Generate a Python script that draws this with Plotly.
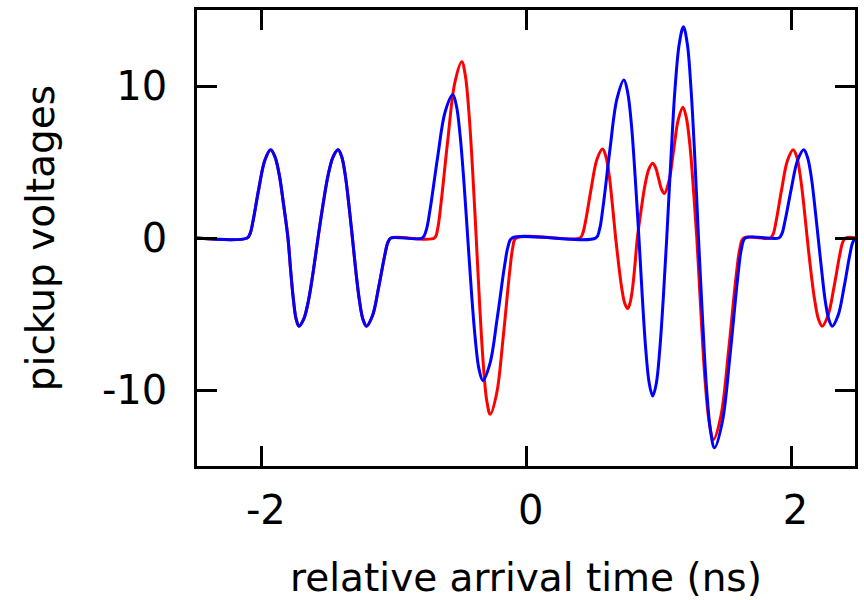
import plotly.graph_objects as go

# ---- data: time (ns) and pickup voltage ----
# two bunch pulses common to both signals
common_t = [-2.5, -2.111, -2.089, -2.067, -2.023, -1.978, -1.934,
            -1.901, -1.868, -1.836, -1.803, -1.782, -1.761, -1.741, -1.720,
            -1.684, -1.648, -1.612, -1.576, -1.538, -1.500, -1.462, -1.424,
            -1.397, -1.370, -1.343, -1.316, -1.290, -1.263, -1.237, -1.210,
            -1.164, -1.118, -1.071, -1.048, -1.025]
common_v = [0, 0, 0.29, 1.1, 3.25, 5.1, 5.8,
            5.34, 4.12, 2.2, 0, -2.2, -4.12, -5.34, -5.8,
            -5.34, -4.12, -2.2, 0, 2.2, 4.12, 5.34, 5.8,
            5.34, 4.12, 2.2, 0, -2.2, -4.12, -5.34, -5.8,
            -5.1, -3.25, -1.1, -0.29, 0]

# blue signal
blue_t3 = [-0.788, -0.760, -0.731, -0.673, -0.616, -0.558,
           -0.530, -0.502, -0.473, -0.445, -0.417, -0.388, -0.360, -0.331,
           -0.277, -0.222, -0.166, -0.138, -0.110]
blue_v3 = [0, 0.47, 1.79, 5.28, 8.29, 9.42,
           8.67, 6.69, 3.58, 0, -3.56, -6.66, -8.63, -9.38,
           -8.25, -5.25, -1.78, -0.47, 0]
blue_t4 = [0.522, 0.549, 0.576, 0.629, 0.682, 0.735,
           0.763, 0.792, 0.820, 0.848, 0.874, 0.900, 0.926, 0.952,
           0.979, 1.005, 1.032, 1.058, 1.090, 1.121, 1.153, 1.184,
           1.213, 1.241, 1.270, 1.298, 1.328, 1.358, 1.389, 1.419,
           1.477, 1.536, 1.594, 1.623, 1.652]
blue_v4 = [0, 0.52, 1.98, 5.82, 9.15, 10.4,
           9.57, 7.38, 3.95, 0, -3.95, -7.38, -9.57, -10.4,
           -9.57, -7.38, -3.95, 0, 5.28, 9.87, 12.79, 13.9,
           12.79, 9.87, 5.28, 0, -5.24, -9.8, -12.7, -13.8,
           -12.14, -7.73, -2.62, -0.69, 0]
blue_t5 = [1.904, 1.928, 1.951, 1.999, 2.046, 2.093,
           2.120, 2.148, 2.175, 2.202, 2.229, 2.255, 2.282, 2.308,
           2.352, 2.397, 2.441, 2.463, 2.485, 2.5]
blue_v5 = [0, 0.29, 1.1, 3.25, 5.1, 5.8,
           5.34, 4.12, 2.2, 0, -2.2, -4.12, -5.34, -5.8,
           -5.1, -3.25, -1.1, -0.29, 0, 0]

# red signal
red_t3 = [-0.697, -0.673, -0.648, -0.595, -0.543, -0.490,
          -0.463, -0.436, -0.408, -0.381, -0.355, -0.328, -0.302, -0.275,
          -0.226, -0.177, -0.128, -0.104, -0.080]
red_v3 = [0, 0.58, 2.2, 6.5, 10.2, 11.6,
          10.67, 8.24, 4.41, 0, -4.41, -8.24, -10.67, -11.6,
          -10.2, -6.5, -2.2, -0.58, 0]
red_t4 = [0.402, 0.423, 0.445, 0.488, 0.530, 0.573,
          0.598, 0.623, 0.647, 0.672, 0.695, 0.718, 0.740, 0.763,
          0.781, 0.800, 0.818, 0.836, 0.865, 0.894, 0.923, 0.952,
          0.974, 0.996, 1.018, 1.040, 1.075, 1.110, 1.145, 1.180,
          1.206, 1.233, 1.259, 1.285, 1.317, 1.348, 1.380, 1.411,
          1.468, 1.525, 1.582, 1.611, 1.639]
red_v4 = [0, 0.29, 1.11, 3.28, 5.15, 5.85,
          5.38, 4.15, 2.24, 0, -1.76, -3.29, -4.27, -4.64,
          -4.27, -3.29, -1.76, 0, 1.87, 3.49, 4.53, 4.92,
          4.63, 3.93, 3.22, 2.93, 3.76, 5.77, 7.78, 8.61,
          7.92, 6.11, 3.27, 0, -5.04, -9.41, -12.19, -13.25,
          -11.66, -7.42, -2.52, -0.66, 0]
red_t5 = [1.841, 1.863, 1.884, 1.927, 1.970, 2.013,
          2.040, 2.066, 2.093, 2.119, 2.147, 2.176, 2.204, 2.232,
          2.276, 2.321, 2.365, 2.387, 2.409, 2.5]
red_v5 = [0, 0.29, 1.1, 3.25, 5.1, 5.8,
          5.34, 4.12, 2.2, 0, -2.2, -4.12, -5.34, -5.8,
          -5.1, -3.25, -1.1, -0.29, 0, 0]

x_ticks = [-2, 0, 2]
y_ticks = [-10, 0, 10]

blue_t = common_t + blue_t3 + blue_t4 + blue_t5
blue_v = common_v + blue_v3 + blue_v4 + blue_v5
red_t = common_t + red_t3 + red_t4 + red_t5
red_v = common_v + red_v3 + red_v4 + red_v5

FONT = "DejaVu Sans"

fig = go.Figure()
fig.add_trace(go.Scatter(x=red_t, y=red_v, mode="lines",
                         line=dict(color="#ff0000", width=3, shape="spline", smoothing=1),
                         showlegend=False, hoverinfo="skip"))
fig.add_trace(go.Scatter(x=blue_t, y=blue_v, mode="lines",
                         line=dict(color="#0000ff", width=3, shape="spline", smoothing=1),
                         showlegend=False, hoverinfo="skip"))

axis_common = dict(showline=True, mirror="ticks", linecolor="black", linewidth=2.5,
                   ticks="inside", ticklen=20, tickwidth=2.5, tickcolor="black",
                   showgrid=False, zeroline=False, automargin=False,
                   tickfont=dict(family=FONT, size=40, color="black"))

fig.update_xaxes(range=[-2.49, 2.48], tickvals=x_ticks, ticktext=[str(v) for v in x_ticks],
                 ticklabelstandoff=7, ticklabelshift=4,
                 title=dict(text="relative arrival time (ns)",
                            font=dict(family=FONT, size=39, color="black"), standoff=34),
                 **axis_common)
fig.update_yaxes(range=[-15, 15], tickvals=y_ticks, ticktext=[str(v) for v in y_ticks],
                 ticklabelstandoff=19,
                 title=dict(text="pickup voltages",
                            font=dict(family=FONT, size=39, color="black"), standoff=36),
                 **axis_common)

fig.update_layout(width=864, height=600,
                  margin=dict(l=197, r=9, t=10, b=134, autoexpand=False),
                  plot_bgcolor="white", paper_bgcolor="white",
                  font=dict(family=FONT, color="black"))

# page body has a default 8px margin; remove it so the figure sits at the page origin
fig.write_html("out.html", config={"displayModeBar": False},
               post_script="document.body.style.margin='0';")
